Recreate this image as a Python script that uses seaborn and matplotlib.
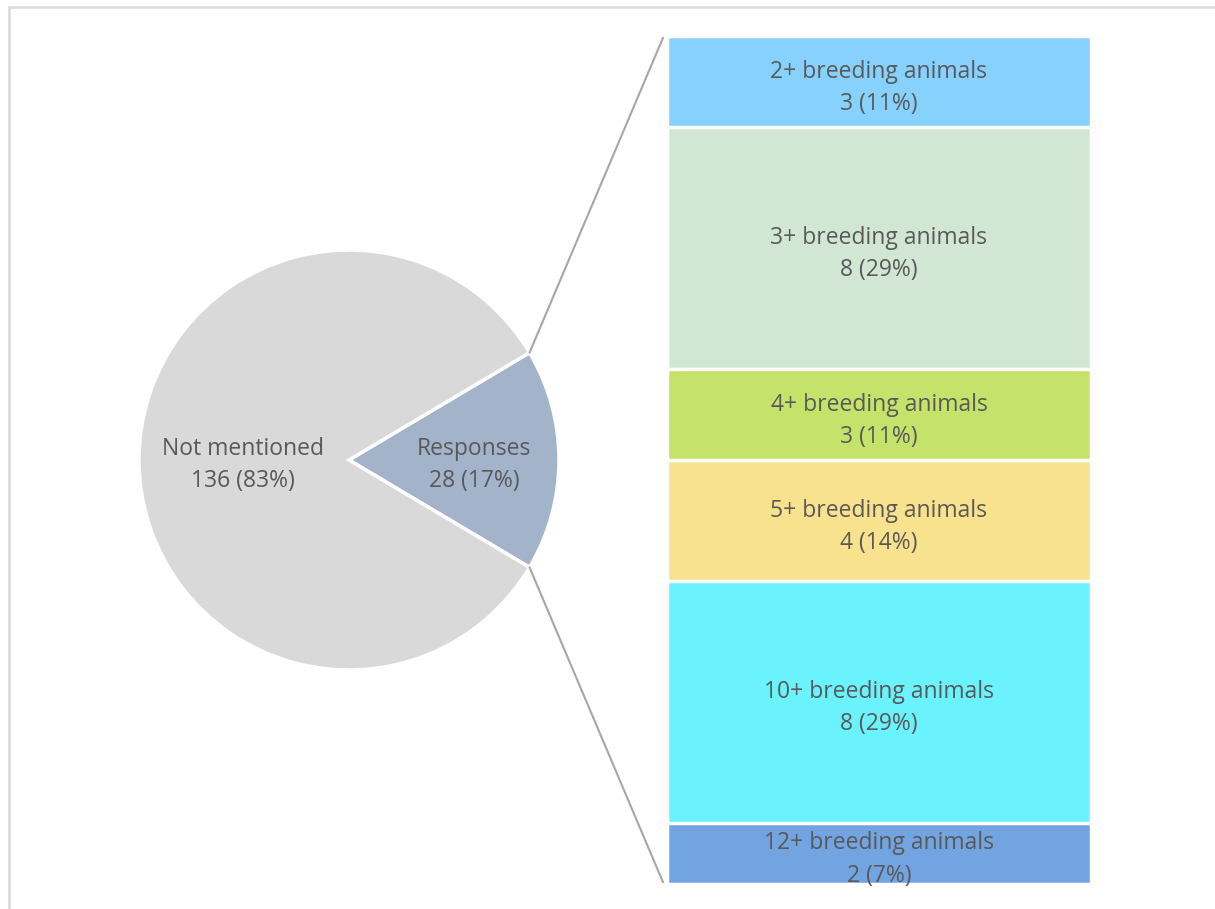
import numpy as np
import pandas as pd
import matplotlib
matplotlib.use("Agg")
import matplotlib.pyplot as plt
from matplotlib.patches import ConnectionPatch
import seaborn as sns

# Overall split
pie_labels = ["Responses", "Not mentioned"]
pie_values = [28, 136]
pie_colors = ["#A3B4CA", "#D9D9D9"]

# Breakdown of the responses
bar_labels = ["2+ breeding animals", "3+ breeding animals", "4+ breeding animals",
              "5+ breeding animals", "10+ breeding animals", "12+ breeding animals"]
bar_values = [3, 8, 3, 4, 8, 2]
bar_colors = ["#87D1FF", "#D1E7D4", "#C5E36A", "#F9E28E", "#6AF2FD", "#71A4E0"]

sns.set_theme(style="white")
plt.rcParams["font.family"] = ["Open Sans", "DejaVu Sans"]
TEXT = "#595959"
FS = 16.5
LS = 1.45

W, H = 1215, 909
fig = plt.figure(figsize=(W / 100, H / 100), dpi=100)
fig.patch.set_facecolor("white")

# Frame around the chart area (top and left edges visible)
fig.add_artist(plt.Line2D([8.5 / W, 8.5 / W], [0, 1 - 6.5 / H], color="#D9D9D9", lw=1.8))
fig.add_artist(plt.Line2D([8.5 / W, 1], [1 - 6.5 / H, 1 - 6.5 / H], color="#D9D9D9", lw=1.8))

# ---- Pie ----
cx, cy, r = 349, 460, 210
ax_pie = fig.add_axes([(cx - r) / W, 1 - (cy + r) / H, 2 * r / W, 2 * r / H])
total = sum(pie_values)
half = pie_values[0] / total * 180
wedges, _ = ax_pie.pie(pie_values, colors=pie_colors, startangle=-half, counterclock=True,
                       radius=1, wedgeprops=dict(edgecolor="white", linewidth=2.5))
ax_pie.set_xlim(-1, 1)
ax_pie.set_ylim(-1, 1)
ax_pie.set_aspect("equal")
ax_pie.axis("off")

for lab, val, x in zip(pie_labels, pie_values, [0.595, -0.505]):
    ax_pie.text(x, -0.025, f"{lab}\n{val} ({val / total:.0%})", ha="center", va="center",
                color=TEXT, fontsize=FS, linespacing=LS)

# ---- Stacked bar ----
pad = 1.75
bx0, bx1, by0, by1 = 669 - pad, 1089 + pad, 38 - pad, 882 + pad
ax_bar = fig.add_axes([bx0 / W, 1 - by1 / H, (bx1 - bx0) / W, (by1 - by0) / H])
cum = np.cumsum(bar_values)
starts = cum - np.array(bar_values)
bar_total = cum[-1]
df = pd.DataFrame({"group": ["all"] * len(bar_labels), "label": bar_labels, "cum": cum})
order = bar_labels[::-1]  # tallest cumulative first so shorter stacks sit on top
sns.barplot(data=df, x="group", y="cum", hue="label", hue_order=order, dodge=False,
            palette=dict(zip(bar_labels, bar_colors)), width=1.0, ax=ax_bar,
            saturation=1, edgecolor="white", linewidth=2.5, legend=False)
ax_bar.set_xlim(-0.5, 0.5)
ax_bar.set_ylim(bar_total, 0)
ax_bar.axis("off")

for lab, val, s in zip(bar_labels, bar_values, starts):
    ax_bar.text(0, s + val / 2 + 0.2, f"{lab}\n{val} ({val / bar_total:.0%})",
                ha="center", va="center", color=TEXT, fontsize=FS, linespacing=LS,
                clip_on=False)

# ---- Connectors from the responses wedge to the bar ----
for ang, yb in [(np.deg2rad(half), 0.05), (np.deg2rad(-half), bar_total - 0.05)]:
    con = ConnectionPatch(xyA=(np.cos(ang), np.sin(ang)), coordsA=ax_pie.transData,
                          xyB=(-0.51, yb), coordsB=ax_bar.transData,
                          color="#A6A6A6", lw=1.5)
    fig.add_artist(con)

fig.savefig("out.png", dpi=100, facecolor="white")
